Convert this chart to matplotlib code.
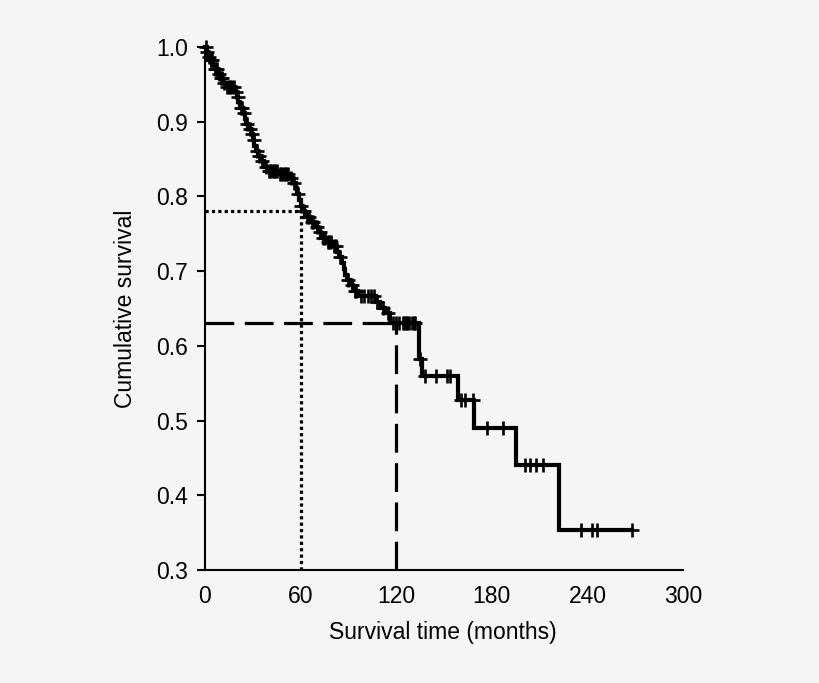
import numpy as np
import matplotlib
matplotlib.use("Agg")
import matplotlib.pyplot as plt

plt.rcParams['font.family'] = ['Liberation Sans', 'DejaVu Sans']

# Kaplan-Meier step data (event times in months, survival after event)
event_times = [0, 1, 2, 3, 5, 6, 8, 9, 11, 13, 19, 20, 21, 22, 24, 25, 26, 27, 29, 30,
               31, 32, 33, 35, 37, 39, 46, 53, 55, 57, 58, 59, 60, 61, 63, 66, 69, 71,
               73, 76, 80, 83, 84, 86, 87, 88, 89, 91, 93, 96, 107, 110, 113, 116, 134,
               136, 159, 169, 195, 222]
survival = [1.0, 0.993, 0.987, 0.982, 0.976, 0.970, 0.964, 0.958, 0.952, 0.947, 0.940,
            0.933, 0.926, 0.918, 0.911, 0.904, 0.897, 0.890, 0.883, 0.876, 0.868, 0.861,
            0.854, 0.847, 0.840, 0.834, 0.830, 0.825, 0.818, 0.811, 0.803, 0.795, 0.787,
            0.780, 0.773, 0.766, 0.759, 0.752, 0.745, 0.739, 0.733, 0.726, 0.719, 0.711,
            0.703, 0.695, 0.688, 0.681, 0.674, 0.667, 0.659, 0.651, 0.644, 0.631, 0.583,
            0.560, 0.527, 0.490, 0.440, 0.354]
end_time = 268

censor_times = [0.5, 1.5, 2.5, 3.5, 4, 4.5, 6.5, 7, 7.5, 8.5, 10, 10.5, 12, 14, 15, 16,
                17, 18, 19.5, 20.5, 22.5, 23, 24.5, 26.5, 28, 29.5, 30.5, 32.5, 34, 36,
                38, 40, 41, 42, 43, 44, 45, 47, 48, 49, 50, 51, 52, 54, 56, 58.5, 60.5,
                62, 64, 65, 67, 68, 70, 72, 74, 75, 77, 78, 79, 81, 82, 85, 90, 92, 94,
                95, 98, 100, 102, 104, 106, 108, 112, 115, 118, 120, 122, 124, 125, 126,
                127, 128, 130, 131, 132, 135, 138, 145, 152, 154, 160.5, 163, 168, 177,
                187, 201, 204, 207.5, 212, 236, 243, 246, 268]

# reference lines
t5, s5 = 60, 0.78
t10, s10 = 120, 0.63

x_ticks = [0, 60, 120, 180, 240, 300]
y_ticks = [0.3, 0.4, 0.5, 0.6, 0.7, 0.8, 0.9, 1.0]

bg = '#f5f5f5'
fig = plt.figure(figsize=(8.2, 6.83), dpi=100, facecolor=bg)
ax = fig.add_axes([0.25, 0.1654, 0.583, 0.7658])
ax.set_facecolor(bg)

et = np.array(event_times + [end_time], dtype=float)
sv = np.array(survival + [survival[-1]], dtype=float)
ax.step(et, sv, where='post', color='black', lw=3.0, solid_joinstyle='miter', zorder=3)

ct = np.array(censor_times, dtype=float)
idx = np.searchsorted(np.array(event_times, dtype=float), ct, side='right') - 1
cs = np.array(survival)[idx]
ax.plot(ct, cs, linestyle='none', marker='+', color='black', markersize=10.5,
        markeredgewidth=1.9, zorder=4)

# 5-year (dotted) and 10-year (dashed) guides
ax.plot([0, t5], [s5, s5], color='black', lw=2.3, linestyle=(0, (1, 1)), zorder=2)
ax.plot([t5, t5], [0.3, s5], color='black', lw=2.3, linestyle=(0, (1, 1)), zorder=2)
ax.plot([0, t10], [s10, s10], color='black', lw=2.3, linestyle=(0, (9, 3.3)), zorder=2)
ax.plot([t10, t10], [0.3, s10], color='black', lw=2.3, linestyle=(0, (9, 3.3)), zorder=2)

ax.set_xlim(0, 300)
ax.set_ylim(0.3, 1.0)
ax.set_xticks(x_ticks)
ax.set_xticklabels([str(v) for v in x_ticks])
ax.set_yticks(y_ticks)
ax.set_yticklabels([f"{v:.1f}" for v in y_ticks])

for s in ['top', 'right']:
    ax.spines[s].set_visible(False)
for s in ['left', 'bottom']:
    ax.spines[s].set_linewidth(1.5)
    ax.spines[s].set_color('black')

ax.tick_params(axis='y', direction='out', length=6, width=1.5, pad=6, labelsize=16.5)
ax.tick_params(axis='x', length=0, pad=11, labelsize=16.5)

ax.set_xlabel('Survival time (months)', fontsize=16.5, va='center')
ax.xaxis.set_label_coords(0.498, -0.1185)
ax.set_ylabel('Cumulative survival', fontsize=16.5, va='center')
ax.yaxis.set_label_coords(-0.167, 0.5)

for sp in ax.spines.values():
    sp.set_zorder(5)
for art in ax.lines:
    art.set_clip_on(False)

fig.savefig('out.png', dpi=100, facecolor=bg)
